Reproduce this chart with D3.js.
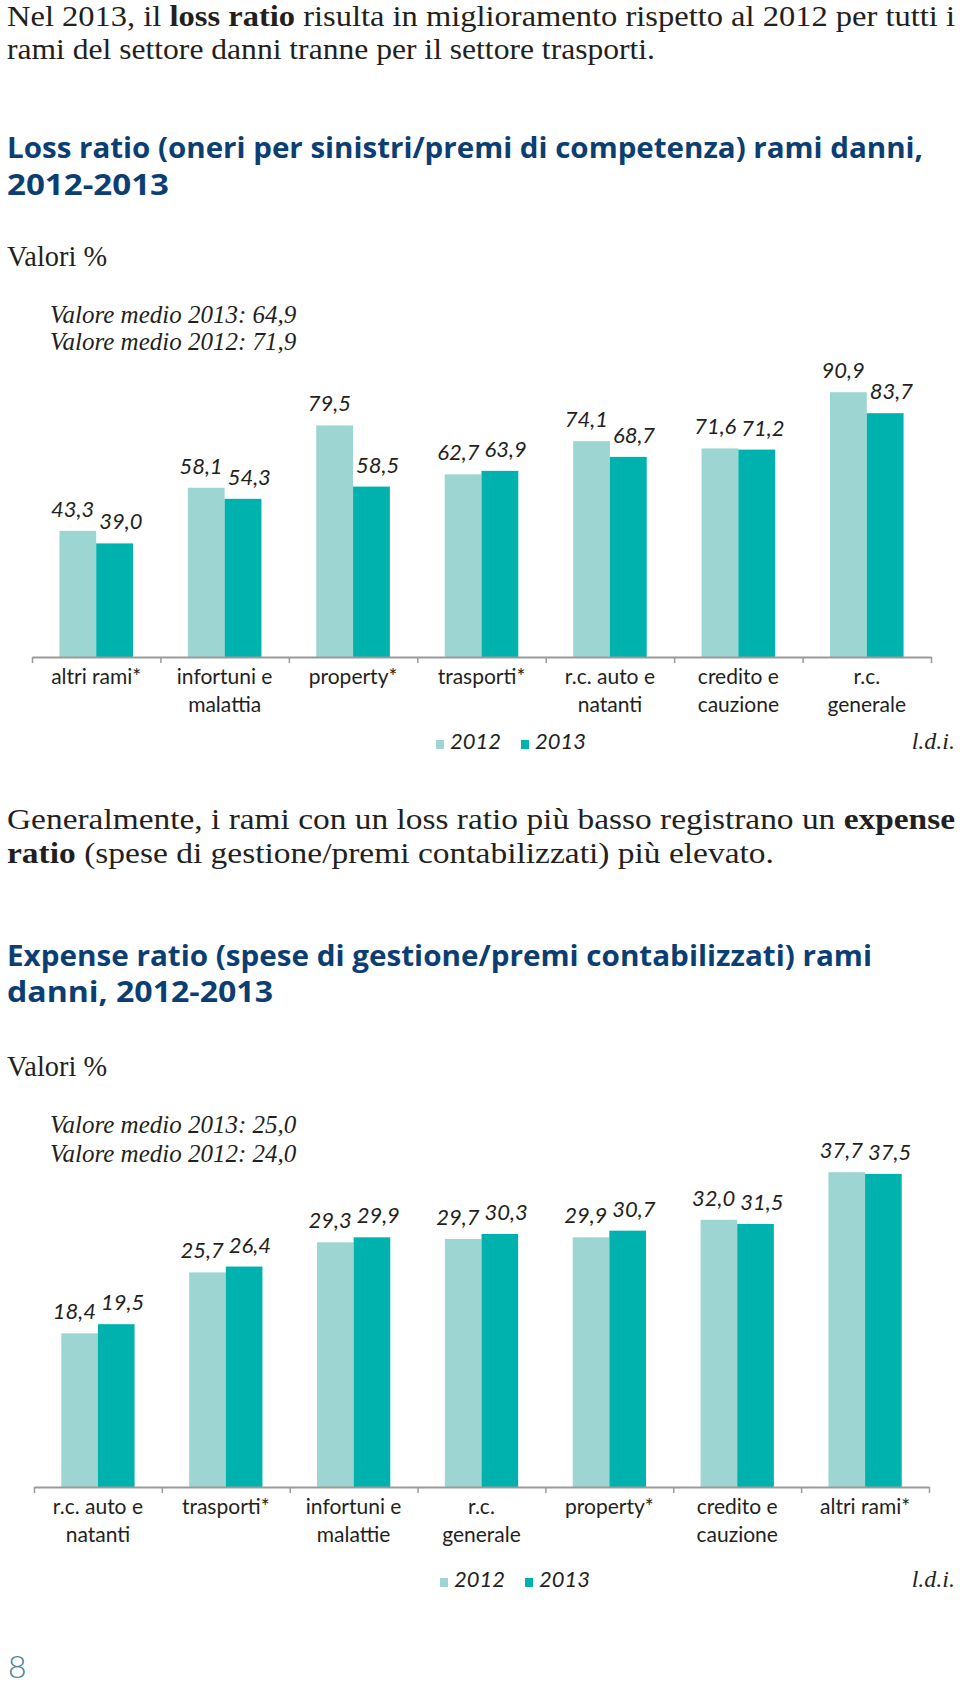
<!DOCTYPE html>
<html>
<head>
<meta charset="utf-8">
<script src="https://cdn.jsdelivr.net/npm/d3@7"></script>
<style>
  body { margin: 0; background: #fff; }
  .body-text { font-family: "Liberation Serif", serif; font-size: 30px; fill: #231f20; }
  .title { font-family: "Open Sans", sans-serif; font-weight: 700; font-size: 28px; fill: #0b3e73; }
  .medio { font-family: "Liberation Serif", serif; font-style: italic; font-size: 25px; fill: #231f20; }
  .cat { font-family: Lato, sans-serif; font-weight: 400; font-size: 21px; fill: #231f20; }
  .val { font-family: Lato, sans-serif; font-weight: 400; font-style: italic; font-size: 22px; fill: #231f20; }
  .legend { font-family: Lato, sans-serif; font-weight: 400; font-style: italic; font-size: 22px; fill: #231f20; }
  .ldi { font-family: "Liberation Serif", serif; font-style: italic; font-size: 24px; fill: #231f20; }
</style>
</head>
<body>
<div id="page"></div>
<script>
// Data
var years = ["2012", "2013"];
var yearColors = ["#9cd5d2", "#00b2ad"];

var lossCategories = ["altri rami*", "infortuni e\nmalattia", "property*", "trasporti*", "r.c. auto e\nnatanti", "credito e\ncauzione", "r.c.\ngenerale"];
var loss2012 = [43.3, 58.1, 79.5, 62.7, 74.1, 71.6, 90.9];
var loss2013 = [39.0, 54.3, 58.5, 63.9, 68.7, 71.2, 83.7];

var expenseCategories = ["r.c. auto e\nnatanti", "trasporti*", "infortuni e\nmalattie", "r.c.\ngenerale", "property*", "credito e\ncauzione", "altri rami*"];
var expense2012 = [18.4, 25.7, 29.3, 29.7, 29.9, 32.0, 37.7];
var expense2013 = [19.5, 26.4, 29.9, 30.3, 30.7, 31.5, 37.5];

var svgWidth = 960;
var svgHeight = 1687;

var svg = d3.select("#page")
  .append("svg")
  .attr("width", svgWidth)
  .attr("height", svgHeight);

// helper for lines of text with bold parts, stretched to a right edge
function textLine(x, y, parts, cls, endX) {
  var t = svg.append("text")
    .attr("class", cls)
    .attr("x", x)
    .attr("y", y);
  parts.forEach(function(p) {
    var s = t.append("tspan").text(p.t);
    if (p.b) s.attr("font-weight", "bold");
  });
  if (endX) {
    t.attr("textLength", endX - x).attr("lengthAdjust", "spacingAndGlyphs");
  }
  return t;
}

// Intro paragraph
textLine(7, 26, [{t: "Nel 2013, il "}, {t: "loss ratio", b: true}, {t: " risulta in miglioramento rispetto al 2012 per tutti i"}], "body-text", 955);
textLine(7, 59, [{t: "rami del settore danni tranne per il settore trasporti."}], "body-text", 655);

// Chart 1 titles
textLine(7, 158, [{t: "Loss ratio (oneri per sinistri/premi di competenza) rami danni,"}], "title", 923);
textLine(7, 195, [{t: "2012-2013"}], "title", 169);
textLine(7, 266, [{t: "Valori %"}], "body-text", 107);
textLine(50, 323, [{t: "Valore medio 2013: 64,9"}], "medio");
textLine(50, 350, [{t: "Valore medio 2012: 71,9"}], "medio");

// Second paragraph
textLine(7, 829, [{t: "Generalmente, i rami con un loss ratio più basso registrano un "}, {t: "expense", b: true}], "body-text", 955);
textLine(7, 863, [{t: "ratio", b: true}, {t: " (spese di gestione/premi contabilizzati) più elevato."}], "body-text", 774);

// Chart 2 titles
textLine(7, 966, [{t: "Expense ratio (spese di gestione/premi contabilizzati) rami"}], "title", 872);
textLine(7, 1002, [{t: "danni, 2012-2013"}], "title", 273);
textLine(7, 1076, [{t: "Valori %"}], "body-text", 107);
textLine(50, 1133, [{t: "Valore medio 2013: 25,0"}], "medio");
textLine(50, 1162, [{t: "Valore medio 2012: 24,0"}], "medio");

// Grouped bar chart
function drawChart(opt) {
  var g = svg.append("g");
  var rows = opt.categories.map(function(c, i) {
    return {cat: c, values: [opt.v2012[i], opt.v2013[i]]};
  });

  var x0 = d3.scaleBand()
    .domain(opt.categories)
    .range([opt.left, opt.right])
    .paddingInner(0);

  var x1 = d3.scaleBand()
    .domain(years)
    .range([0, x0.bandwidth()])
    .paddingOuter(0.745);

  var y = d3.scaleLinear()
    .domain([0, opt.yMax])
    .range([opt.axisY, opt.axisY - opt.yPix]);

  var groups = g.selectAll("g.group")
    .data(rows)
    .enter()
    .append("g")
    .attr("class", "group")
    .attr("transform", d => `translate(${x0(d.cat)},0)`);

  groups.selectAll("rect")
    .data(d => d.values.map((v, i) => ({year: years[i], value: v, i: i})))
    .enter()
    .append("rect")
    .attr("x", d => x1(d.year))
    .attr("width", x1.bandwidth())
    .attr("y", d => y(d.value))
    .attr("height", d => opt.axisY - y(d.value))
    .attr("fill", d => yearColors[d.i]);

  // value labels: 2012 ends at group middle, 2013 starts there
  var mid = x0.bandwidth() / 2;
  groups.selectAll("text.val")
    .data(d => d.values.map((v, i) => ({value: v, i: i})))
    .enter()
    .append("text")
    .attr("class", "val")
    .attr("x", d => d.i === 0 ? mid - 2 : mid + 3)
    .attr("y", d => y(d.value) - 14)
    .attr("text-anchor", d => d.i === 0 ? "end" : "start")
    .text(d => d3.format(".1f")(d.value).replace(".", ","));

  // axis with ticks at band boundaries
  var edge = d3.scaleLinear().domain([0, opt.categories.length]).range([opt.left, opt.right]);
  var axis = g.append("g")
    .attr("transform", `translate(0,${opt.axisY})`)
    .call(d3.axisBottom(edge)
      .tickValues(d3.range(opt.categories.length + 1))
      .tickFormat("")
      .tickSize(6)
      .tickSizeOuter(0));
  axis.select(".domain").attr("stroke", "#9a9a9a").attr("stroke-width", 2.2);
  axis.selectAll(".tick line").attr("stroke", "#9a9a9a").attr("stroke-width", 1.5);

  // category labels
  groups.append("text")
    .attr("class", "cat")
    .attr("text-anchor", "middle")
    .attr("y", opt.axisY + 27)
    .selectAll("tspan")
    .data(d => d.cat.split("\n"))
    .enter()
    .append("tspan")
    .attr("x", mid)
    .attr("dy", (d, i) => i === 0 ? 0 : 28)
    .text(d => d);

  // legend
  var legend = svg.append("g")
    .attr("transform", `translate(${opt.legendX},${opt.legendY})`);
  var item = legend.selectAll("g")
    .data(years)
    .enter()
    .append("g")
    .attr("transform", (d, i) => `translate(${i * 85},0)`);
  item.append("rect")
    .attr("x", 0)
    .attr("y", -9)
    .attr("width", 8)
    .attr("height", 9)
    .attr("fill", (d, i) => yearColors[i]);
  item.append("text")
    .attr("class", "legend")
    .attr("x", 14)
    .attr("y", 0)
    .text(d => d);

  svg.append("text")
    .attr("class", "ldi")
    .attr("x", 955)
    .attr("y", opt.legendY)
    .attr("text-anchor", "end")
    .text("l.d.i.");
}

drawChart({
  categories: lossCategories, v2012: loss2012, v2013: loss2013,
  left: 32, right: 931, axisY: 657, yMax: 100, yPix: 291.3,
  legendX: 436, legendY: 749
});

drawChart({
  categories: expenseCategories, v2012: expense2012, v2013: expense2013,
  left: 34, right: 929, axisY: 1487, yMax: 40, yPix: 334,
  legendX: 440, legendY: 1587
});

// page number
svg.append("text")
  .attr("x", 8)
  .attr("y", 1678)
  .attr("font-family", "Lato, sans-serif")
  .attr("font-weight", 300)
  .attr("font-size", 32)
  .attr("fill", "#4e7f9e")
  .text("8");
</script>
</body>
</html>
